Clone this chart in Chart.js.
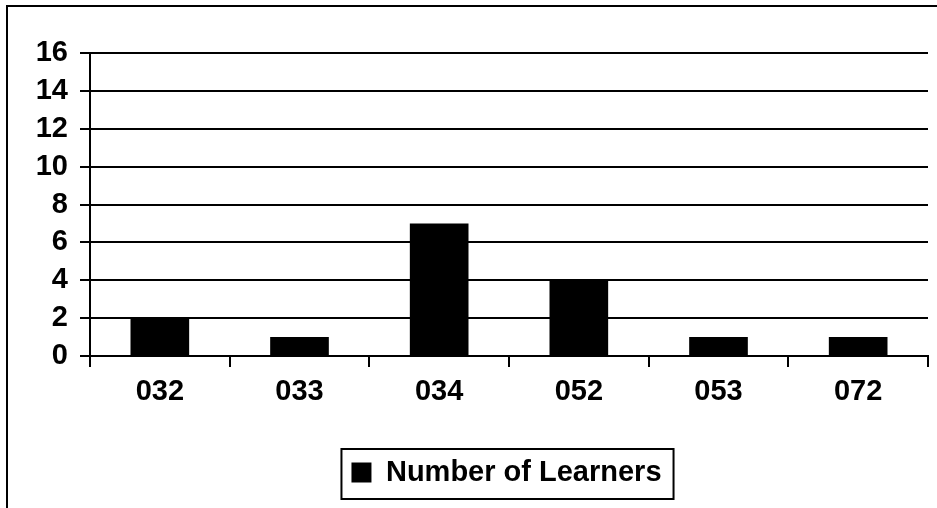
<!DOCTYPE html>
<html>
<head>
<meta charset="utf-8">
<script src="https://cdn.jsdelivr.net/npm/chart.js@4"></script>
<style>
html,body{margin:0;padding:0;background:#fff;overflow:hidden;}
canvas{display:block;}
</style>
</head>
<body>
<canvas id="learnersChart" width="937" height="508"></canvas>
<script>
const categories = ["032","033","034","052","053","072"];
const learners = [2,1,7,4,1,1];
const yTicks = [0,2,4,6,8,10,12,14,16];

const font = {family:"'Liberation Sans', Arial, sans-serif", size:29, weight:"bold"};

// outer frame + box round the legend
const framePlugin = {
id:"frame",
afterLayout(chart){
// y axis is kept narrow so the legend centres like the original; let its labels use the margin
chart.scales.y.left = 0;
},
beforeDraw(chart){
const ctx = chart.ctx;
ctx.save();
ctx.fillStyle = "#fff";
ctx.fillRect(0,0,chart.width,chart.height);
ctx.strokeStyle = "#000";
ctx.lineWidth = 2;
ctx.beginPath();
ctx.moveTo(7,chart.height);
ctx.lineTo(7,6);
ctx.lineTo(chart.width,6);
ctx.stroke();
ctx.restore();
},
afterDraw(chart){
const hit = chart.legend.legendHitBoxes[0];
if(!hit) return;
const ctx = chart.ctx;
ctx.save();
ctx.strokeStyle = "#000";
ctx.lineWidth = 2;
ctx.strokeRect(hit.left - 10, hit.top - 9, hit.width + 22, hit.height + 21);
ctx.restore();
}
};

new Chart(document.getElementById("learnersChart"),{
type:"bar",
data:{
labels:categories,
datasets:[{
label:"Number of Learners",
data:learners,
backgroundColor:"#000",
borderWidth:0,
categoryPercentage:1,
barPercentage:0.42
}]
},
options:{
responsive:false,
animation:false,
layout:{padding:{left:85,right:9,top:53,bottom:11}},
plugins:{
tooltip:{enabled:false},
legend:{
position:"bottom",
labels:{
color:"#000",
font:font,
boxWidth:20,
boxHeight:20,
padding:10
}
}
},
scales:{
x:{
offset:true,
grid:{
offset:true,
drawOnChartArea:true,
color:c => (c.index === 0 || c.index === categories.length) ? "#000" : "rgba(0,0,0,0)",
tickColor:"#000",
lineWidth:2,
tickLength:11
},
border:{display:true,color:"#000",width:2},
ticks:{color:"#000",font:font,padding:8,maxRotation:0},
afterFit(scale){ scale.height = 92; }
},
y:{
min:0,
max:16,
afterBuildTicks(scale){ scale.ticks = yTicks.map(v => ({value:v})); },
grid:{color:"#000",lineWidth:2,tickLength:10},
border:{display:true,color:"#000",width:2},
ticks:{color:"#000",font:font,padding:12},
afterFit(scale){ scale.width = 5; }
}
}
},
plugins:[framePlugin]
});
</script>
</body>
</html>
